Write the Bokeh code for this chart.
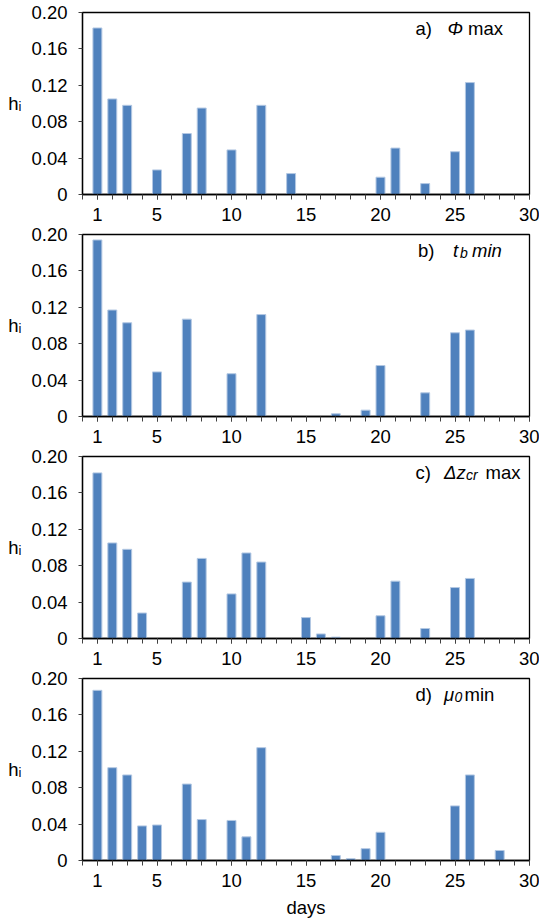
from bokeh.plotting import figure
from bokeh.models import FixedTicker, Label, Range1d, ColumnDataSource, CustomJSTickFormatter
from bokeh.layouts import column
from bokeh.embed import file_html
from bokeh.resources import INLINE

# ---- data -------------------------------------------------------------
days = list(range(1, 31))
h_a = [0.183, 0.105, 0.098, 0, 0.027, 0, 0.067, 0.095, 0, 0.049,
       0, 0.098, 0, 0.023, 0, 0, 0, 0, 0, 0.019,
       0.051, 0, 0.012, 0, 0.047, 0.123, 0, 0, 0, 0]
h_b = [0.194, 0.117, 0.103, 0, 0.049, 0, 0.107, 0, 0, 0.047,
       0, 0.112, 0, 0, 0, 0, 0.003, 0, 0.007, 0.056,
       0, 0, 0.026, 0, 0.092, 0.095, 0, 0, 0, 0]
h_c = [0.182, 0.105, 0.098, 0.028, 0, 0, 0.062, 0.088, 0, 0.049,
       0.094, 0.084, 0, 0, 0.023, 0.005, 0.0015, 0, 0, 0.025,
       0.063, 0, 0.011, 0, 0.056, 0.066, 0, 0, 0, 0]
h_d = [0.187, 0.102, 0.094, 0.038, 0.039, 0, 0.084, 0.045, 0, 0.044,
       0.026, 0.124, 0, 0, 0, 0, 0.0055, 0.002, 0.013, 0.031,
       0, 0, 0, 0, 0.060, 0.094, 0, 0.011, 0, 0]
x_ticks = [1, 5, 10, 15, 20, 25, 30]
x_minor = list(range(0, 31))
y_ticks = [0, 0.04, 0.08, 0.12, 0.16, 0.20]
y_label = "h\u1d62"
x_label = "days"

# panel titles: (text, x offset, baseline shift, subscript?, italic?)
title_a = [("a)", 333, 0, False, False), ("\u03a6", 365, 0, False, True), ("max", 385.5, 0, False, False)]
title_b = [("b)", 335.5, 0, False, False), ("t", 370.5, 0, False, True), ("b", 377.5, -3, True, True),
           ("min", 389.5, 0, False, True)]
title_c = [("c)", 333, 0, False, False), ("\u0394z", 361.5, 0, False, True), ("cr", 383.5, -3, True, True),
           ("max", 403, 0, False, False)]
title_d = [("d)", 333, 0, False, False), ("\u03bc", 361.5, 0, False, True), ("0", 372, -3, True, True),
           ("min", 382, 0, False, False)]

FONT = "Liberation Sans"
FS = "18.5px"
SUB = "14px"
BAR = "#4F81BD"
FRAME_H = 182


def make_panel(vals, pieces, top, bottom, last=False):
    p = figure(frame_width=447, frame_height=FRAME_H,
               x_range=Range1d(0, 30), y_range=Range1d(0, 0.2),
               output_backend="svg", toolbar_location=None,
               min_border_left=82, min_border_right=10,
               min_border_top=top, min_border_bottom=bottom)
    p.background_fill_color = "white"
    p.border_fill_color = "white"
    p.outline_line_color = "black"
    p.outline_line_width = 1.3
    p.xgrid.visible = False
    p.ygrid.visible = False

    xs = [d for d, v in zip(days, vals) if v > 0]
    hs = [v for v in vals if v > 0]
    src = ColumnDataSource(dict(day=xs, h=hs))
    p.vbar(x="day", top="h", width=0.6, source=src,
           fill_color=BAR, line_color="#B3C8E3", line_width=1)

    xa = p.xaxis[0]
    xa.ticker = FixedTicker(ticks=x_ticks, minor_ticks=x_minor)
    xa.major_tick_in = 0
    xa.major_tick_out = 5
    xa.minor_tick_in = 0
    xa.minor_tick_out = 5
    xa.major_tick_line_color = "#404040"
    xa.minor_tick_line_color = "#404040"
    xa.axis_line_color = "black"
    xa.axis_line_width = 1.3
    xa.major_label_text_font = FONT
    xa.major_label_text_font_size = FS
    xa.major_label_text_color = "black"
    xa.major_label_standoff = 8

    ya = p.yaxis[0]
    ya.ticker = FixedTicker(ticks=y_ticks)
    ya.formatter = CustomJSTickFormatter(code="return tick == 0 ? '0' : tick.toFixed(2);")
    ya.major_tick_in = 0
    ya.major_tick_out = 4
    ya.minor_tick_line_color = None
    ya.major_tick_line_color = "#404040"
    ya.axis_line_color = "black"
    ya.axis_line_width = 1.3
    ya.major_label_text_font = FONT
    ya.major_label_text_font_size = FS
    ya.major_label_text_color = "black"
    ya.major_label_standoff = 11
    ya.axis_label = y_label
    ya.axis_label_text_font = FONT
    ya.axis_label_text_font_size = FS
    ya.axis_label_text_font_style = "normal"
    ya.axis_label_text_color = "black"
    ya.axis_label_standoff = 7
    try:
        ya.axis_label_orientation = "horizontal"
    except Exception:
        pass

    if last:
        xa.axis_label = x_label
        xa.axis_label_text_font = FONT
        xa.axis_label_text_font_size = FS
        xa.axis_label_text_font_style = "normal"
        xa.axis_label_text_color = "black"
        xa.axis_label_standoff = 7

    base = FRAME_H - 15.5
    for txt, dx, dy, sub, ital in pieces:
        p.add_layout(Label(x=dx, y=base + dy, x_units="screen", y_units="screen", text=txt,
                           text_font=FONT, text_font_size=SUB if sub else FS,
                           text_font_style="italic" if ital else "normal",
                           text_color="black", text_baseline="alphabetic", text_align="left"))
    return p


pa = make_panel(h_a, title_a, 12, 0)
pb = make_panel(h_b, title_b, 11, 0)
pc = make_panel(h_c, title_c, 11, 0)
pd = make_panel(h_d, title_d, 11, 58, last=True)

layout = column(pa, pb, pc, pd, spacing=0)
open("out.html", "w").write(file_html(layout, INLINE))
